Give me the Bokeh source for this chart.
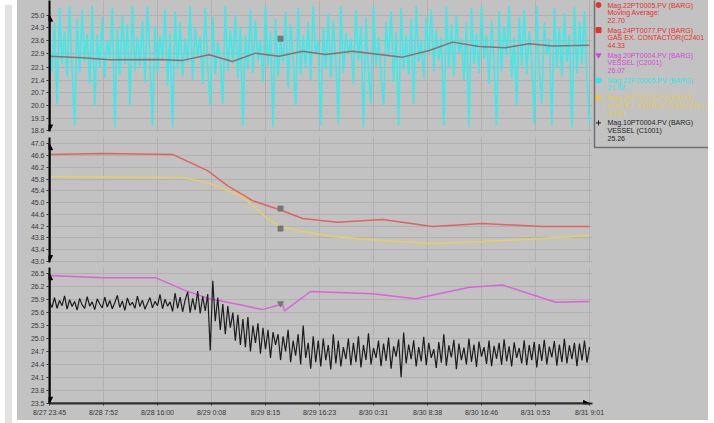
import numpy as np
from bokeh.plotting import figure
from bokeh.layouts import row, column
from bokeh.models import (Range1d, FixedTicker, PrintfTickFormatter, Arrow, NormalHead,
                          Div, ColumnDataSource, Grid)
from bokeh.embed import file_html
from bokeh.resources import INLINE
from bokeh.core.properties import value

# ---------------- data ----------------
TOTAL_MIN = 4876  # 8/27 23:45 -> 8/31 9:01, minutes
x_tick_labels = ["8/27 23:45", "8/28 7:52", "8/28 16:00", "8/29 0:08", "8/29 8:15",
                 "8/29 16:23", "8/30 0:31", "8/30 8:38", "8/30 16:46", "8/31 0:53", "8/31 9:01"]
x_ticks = [0, 488, 975, 1463, 1950, 2438, 2926, 3413, 3901, 4388, 4876]

top_ticks = [18.6, 19.3, 20.0, 20.7, 21.4, 22.1, 22.9, 23.6, 24.3, 25.0]
mid_ticks = [43.0, 43.4, 43.8, 44.2, 44.6, 45.0, 45.4, 45.8, 46.2, 46.6, 47.0]
bot_ticks = [23.5, 23.8, 24.1, 24.4, 24.7, 25.0, 25.3, 25.6, 25.9, 26.2, 26.5]

# cyan raw pressure (top panel), regular samples
cyan_v = [
    23.4, 21.9, 24.6, 20.1, 25.4, 22.3, 24.1, 21.6, 25.5, 22.0, 18.9, 24.8,
    21.8, 25.3, 22.4, 24.0, 21.2, 25.5, 20.0, 23.9, 22.1, 24.9, 21.5, 23.6,
    22.6, 25.4, 18.8, 24.2, 21.7, 25.0, 22.3, 24.5, 20.0, 25.5, 21.9, 23.8,
    22.2, 24.7, 21.3, 25.5, 22.6, 18.9, 24.4, 21.8, 23.9, 22.5, 25.3, 21.1,
    24.0, 18.8, 25.2, 22.0, 24.6, 21.6, 23.7, 22.4, 25.5, 21.4, 24.3, 22.7,
    23.8, 21.2, 25.4, 22.1, 20.0, 24.9, 21.7, 23.5, 22.6, 20.1, 25.5, 21.9,
    24.2, 22.3, 25.0, 21.5, 24.4, 18.9, 23.9, 22.0, 25.3, 21.8, 24.7, 22.5,
    23.6, 21.3, 25.5, 22.2, 24.1, 18.8, 24.8, 21.6, 23.7, 22.4, 25.2, 21.0,
    24.5, 22.6, 20.0, 25.4, 21.7, 23.9, 22.1, 24.6, 21.4, 25.5, 22.8, 23.6,
    18.9, 24.3, 22.0, 25.1, 21.5, 24.7, 22.4, 19.0, 25.5, 21.8, 24.0, 22.9,
    23.7, 21.2, 25.3, 22.5, 24.4, 18.8, 24.9, 21.9, 20.1, 25.5, 22.2, 23.8,
    21.6, 20.0, 24.6, 22.7, 25.2, 21.3, 24.1, 18.9, 25.4, 22.0, 23.9, 21.7,
    24.8, 20.1, 25.5, 22.4, 23.6, 21.5, 24.9, 22.8, 25.3, 21.9, 24.2, 22.5,
    23.8, 18.9, 25.5, 22.1, 24.5, 21.6, 25.0, 22.9, 23.7, 21.4, 24.6, 18.8,
    25.4, 22.3, 24.0, 21.8, 25.5, 22.6, 23.9, 21.2, 24.7, 22.4, 18.9, 25.2,
    21.9, 24.4, 22.7, 25.5, 21.5, 23.8, 20.0, 24.9, 22.2, 25.3, 21.7, 24.1,
    22.5, 19.0, 25.5, 21.9, 20.1, 24.6, 22.8, 23.7, 18.9, 25.4, 22.1, 24.3,
    21.6, 25.1, 22.4, 23.9, 18.8, 25.5, 21.8, 24.6, 22.3, 25.2, 21.5, 19.0,
]
cyan_t = np.linspace(0, TOTAL_MIN, len(cyan_v))

# moving average (top panel)
ma_t = [0, 298, 539, 990, 1201, 1442, 1652, 1860, 2074, 2285, 2492, 2736, 3188, 3429,
        3639, 3880, 4118, 4332, 4542, 4876]
ma_v = [22.73, 22.65, 22.53, 22.55, 22.50, 22.81, 22.44, 22.90, 22.73, 23.01, 22.83, 23.01,
        22.68, 23.05, 23.51, 23.27, 23.20, 23.42, 23.29, 23.33]

# middle panel
red_t = [0, 479, 1111, 1427, 1607, 1833, 2086, 2285, 2600, 3007, 3458, 3910, 4452, 4876]
red_v = [46.64, 46.67, 46.64, 46.09, 45.58, 45.07, 44.75, 44.46, 44.33, 44.43, 44.19,
         44.29, 44.19, 44.19]
yel_t = [0, 1201, 1427, 1743, 1968, 2086, 2285, 2555, 3007, 3458, 3910, 4452, 4876]
yel_v = [45.89, 45.85, 45.68, 45.21, 44.46, 44.19, 44.02, 43.85, 43.71, 43.61, 43.68,
         43.78, 43.88]

# bottom panel
mag_t = [0, 479, 957, 1228, 1445, 1743, 1923, 2104, 2122, 2357, 2917, 3305, 3793, 4091,
         4570, 4876]
mag_v = [26.46, 26.41, 26.41, 26.11, 25.92, 25.77, 25.67, 25.80, 25.64, 26.09, 26.04,
         25.92, 26.19, 26.24, 25.84, 25.86]

blk_v = [
    25.84, 25.72, 25.95, 25.70, 25.88, 25.76, 25.99, 25.68, 25.90, 25.74, 25.86, 25.66,
    25.93, 25.78, 25.70, 25.97, 25.75, 25.85, 25.67, 25.92, 25.80, 25.71, 25.96, 25.73,
    25.88, 25.69, 25.83, 26.00, 25.72, 25.87, 25.65, 25.94, 25.77, 25.84, 25.70, 25.98,
    25.74, 25.89, 25.68, 25.82, 25.95, 25.71, 25.86, 25.76, 26.02, 25.69, 25.91, 25.75,
    25.85, 25.63, 26.05, 25.70, 25.96, 25.62, 25.89, 26.08, 25.60, 25.93, 25.66, 26.10,
    25.58, 25.98, 25.64, 26.03, 24.72, 26.34, 25.40, 25.95, 25.20, 25.80, 25.10, 25.75,
    25.25, 25.60, 24.95, 25.55, 24.85, 25.45, 24.80, 25.50, 24.70, 25.30, 24.90, 25.35,
    24.65, 25.25, 24.75, 25.20, 24.55, 25.15, 24.85, 25.10, 24.50, 25.05, 24.70, 25.20,
    24.45, 24.95, 24.60, 25.10, 24.40, 25.30, 24.55, 24.90, 24.30, 25.05, 24.45, 24.95,
    24.35, 25.00, 24.50, 24.85, 24.28, 25.10, 24.42, 24.95, 24.35, 24.80, 24.52, 25.00,
    24.38, 24.90, 24.45, 25.05, 24.33, 24.85, 24.50, 25.12, 24.40, 24.78, 24.55, 24.95,
    24.36, 24.88, 24.48, 25.02, 24.30, 24.82, 24.58, 24.98, 24.10, 25.14, 24.42, 24.86,
    24.52, 24.96, 24.35, 24.80, 24.47, 25.04, 24.38, 24.90, 24.55, 24.75, 24.32, 24.92,
    24.44, 25.10, 24.37, 24.84, 24.56, 24.97, 24.29, 24.88, 24.50, 24.79, 24.40, 25.00,
    24.46, 24.86, 24.34, 24.93, 24.58, 24.80, 24.41, 24.95, 24.36, 24.83, 24.53, 24.90,
    24.39, 24.98, 24.47, 24.82, 24.35, 24.91, 24.55, 24.78, 24.42, 24.96, 24.38, 24.85,
    24.50, 24.92, 24.33, 24.87, 24.48, 24.97, 24.40, 24.81, 24.56, 24.94, 24.37, 24.86,
    24.45, 24.99, 24.42, 24.84, 24.52, 24.90, 24.36, 24.88, 24.49, 24.95, 24.44, 24.80,
]
blk_t = np.linspace(0, TOTAL_MIN, len(blk_v))

# cursor markers
cursor_t = 2086
cursor_top = 23.70
cursor_red = 44.80
cursor_yel = 44.12
cursor_mag = 25.81

# legend entries: (lines, colour, marker)
legend_entries = [
    (["Mag.22PT0005.PV (BARG)", "Moving Average:", "22.70"], "#e8302c", "circle"),
    (["Mag.24PT0077.PV (BARG)", "GAS EX. CONTACTOR(C2401", "44.33"], "#e8302c", "square"),
    (["Mag.20PT0004.PV (BARG)", "VESSEL (C2001)", "26.07"], "#d846d8", "inverted_triangle"),
    (["Mag.22PT0005.PV (BARG)", "21.92"], "#30e6e6", "circle"),
    (["Mag.24PT0078.PV (BARG)", "GAS EX. CONTACTOR(C2401)", "43.95"], "#e8c84a", "circle"),
    (["Mag.10PT0004.PV (BARG)", "VESSEL (C1001)", "25.26"], "#1e1e1e", "cross"),
]

# ---------------- styling ----------------
BG = "#c2c2c2"
GRID = "#b1b1b1"
LBL = "#383838"
FONT = "Liberation Sans"
LEG_W = 116
BGSTYLE = {"background-color": BG}

x_end = TOTAL_MIN * 543.0 / 540.0
xr = Range1d(0, x_end)


def make_panel(width, height, y0, y1, yticks, top_b, bottom_b, right_b, show_x):
    p = figure(width=width, height=height, x_range=xr, y_range=Range1d(y0, y1),
               output_backend="svg", toolbar_location=None,
               x_axis_location="below" if show_x else None,
               min_border_left=32, min_border_right=right_b,
               min_border_top=top_b, min_border_bottom=bottom_b,
               background_fill_color=BG, border_fill_color=BG, outline_line_color=None)
    p.grid.visible = False
    p.add_layout(Grid(dimension=0, ticker=FixedTicker(ticks=x_ticks),
                      grid_line_color=GRID, grid_line_width=1))
    p.add_layout(Grid(dimension=1, ticker=FixedTicker(ticks=yticks),
                      grid_line_color=GRID, grid_line_width=1))
    ya = p.yaxis[0]
    ya.ticker = FixedTicker(ticks=yticks)
    ya.formatter = PrintfTickFormatter(format="%.1f")
    ya.major_label_text_font_size = "7px"
    ya.major_label_text_font = FONT
    ya.major_label_text_color = LBL
    ya.major_tick_out = 3
    ya.major_tick_in = 0
    ya.minor_tick_out = 0
    ya.minor_tick_in = 0
    ya.major_label_standoff = 2
    ya.axis_line_width = 2
    ya.axis_line_color = "black"
    ya.major_tick_line_color = "#333333"
    p.add_layout(Arrow(start=NormalHead(size=6, fill_color="black", line_color="black"),
                       end=NormalHead(size=6, fill_color="black", line_color="black"),
                       x_start=0, x_end=0, y_start=yticks[0], y_end=yticks[-1],
                       line_width=2, line_color="black"))
    return p


f1 = make_panel(575, 134, 18.57, 25.81, top_ticks, 0, 3, 0, False)
f1.line(cyan_t, cyan_v, line_color="#3ee9e9", line_width=1.6)
f1.line(ma_t, ma_v, line_color="#887070", line_width=1.5)
f1.scatter([cursor_t], [cursor_top], marker="square", size=5, color="#767676")

f2 = make_panel(575, 130, 42.966, 47.214, mid_ticks, 3, 2, 0, False)
f2.line(red_t, red_v, line_color="#e2635c", line_width=1.5)
f2.line(yel_t, yel_v, line_color="#e8cf62", line_width=1.5)
f2.scatter([cursor_t, cursor_t], [cursor_red, cursor_yel], marker="square", size=5,
           color="#767676")

f3 = make_panel(575 + LEG_W, 156, 23.493, 26.646, bot_ticks, 3, 17, LEG_W, True)
f3.line(mag_t, mag_v, line_color="#dc62dc", line_width=1.5)
f3.line(blk_t, blk_v, line_color="#1c1c1c", line_width=1.2)
f3.scatter([cursor_t], [cursor_mag], marker="inverted_triangle", size=6, color="#767676")

xa = f3.xaxis[0]
xa.ticker = FixedTicker(ticks=x_ticks)
xa.major_label_overrides = {t: l for t, l in zip(x_ticks, x_tick_labels)}
xa.major_label_text_font_size = "7px"
xa.major_label_text_font = FONT
xa.major_label_text_color = LBL
xa.major_tick_out = 2
xa.major_tick_in = 0
xa.minor_tick_out = 0
xa.minor_tick_in = 0
xa.major_label_standoff = 3
xa.axis_line_width = 2
xa.axis_line_color = "#2e2e2e"
xa.major_tick_line_color = "#333333"
f3.add_layout(Arrow(end=NormalHead(size=6, fill_color="black", line_color="black"),
                    x_start=x_ticks[0], x_end=x_ticks[-1], y_start=23.493, y_end=23.493,
                    line_width=2, line_color="#2e2e2e"))

# ---------------- legend panel ----------------
LEG_H = 264
lg = figure(width=LEG_W, height=LEG_H, x_range=Range1d(0, LEG_W), y_range=Range1d(LEG_H, 0),
            output_backend="svg", toolbar_location=None,
            x_axis_location=None, y_axis_location=None, min_border=0,
            background_fill_color=BG, border_fill_color=BG, outline_line_color=None)
lg.grid.visible = False
lg.quad(left=[2], right=[130], top=[-10], bottom=[147], fill_color=None,
        line_color="#707070", line_width=1.5)

tx, ty, tt, tc = [], [], [], []
mx, my, mm, mc = [], [], [], []
y = 4.5
for lines, col, mk in legend_entries:
    if mk is not None:
        mx.append(6); my.append(y); mm.append(mk); mc.append(col)
    for ln in lines:
        tx.append(15); ty.append(y); tt.append(ln); tc.append(col)
        y += 7.6
    y += 2.3

lg.text(x="x", y="y", text="t", text_color="c",
        source=ColumnDataSource(dict(x=tx, y=ty, t=tt, c=tc)),
        text_font=value(FONT), text_font_size="7px",
        text_baseline="middle", text_align="left")
lg.scatter(x="x", y="y", marker="m", color="c", size=5,
           source=ColumnDataSource(dict(x=mx, y=my, m=mm, c=mc)))

strip = Div(width=7, height=420, styles={"background-color": "#e2e2e2"})

upper = row(column(f1, f2, spacing=0, styles=BGSTYLE), lg, spacing=0, styles=BGSTYLE)
layout = row(strip, column(upper, f3, spacing=0, styles=BGSTYLE), spacing=0)

with open("out.html", "w") as fh:
    fh.write(file_html(layout, INLINE))
